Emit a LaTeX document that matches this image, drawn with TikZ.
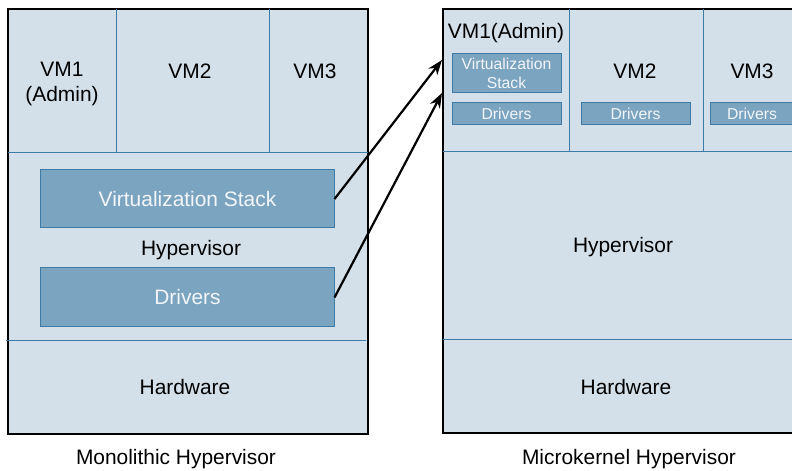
\documentclass[tikz,border=0pt]{standalone}
\usepackage{fontspec}
\setmainfont{Liberation Sans}
\usetikzlibrary{arrows.meta}
\definecolor{lightfill}{HTML}{D3E0EA}
\definecolor{darkfill}{HTML}{7BA4C1}
\definecolor{divline}{HTML}{3D7BA6}
\definecolor{boxtext}{HTML}{F2F6F9}
\tikzset{
  outerbox/.style={fill=lightfill,draw=black,line width=2bp},
  divider/.style={draw=divline,line width=1bp},
  compbox/.style={fill=darkfill,draw=divline,line width=1bp,inner sep=0pt,text=boxtext},
  bigfont/.style={font=\fontsize{21}{26}\selectfont},
  smallfont/.style={font=\fontsize{15.8}{19}\selectfont},
  lbl/.style={inner sep=0pt,text=black,bigfont},
  arr/.style={line width=2.2bp,-{Stealth[length=15bp,width=11bp]}}
}
\begin{document}
\begin{tikzpicture}[x=1bp,y=-1bp]
\useasboundingbox (0,0) rectangle (792,471);
\clip (0,0) rectangle (792,471);
\fill[white] (0,0) rectangle (792,471);

% ---------- Monolithic ----------
\draw[outerbox] (8,9) rectangle (368,434);
\draw[divider] (8,153) -- (368,153);
\draw[divider] (116,9) -- (116,153);
\draw[divider] (269,9) -- (269,153);
\draw[divider] (6,341) -- (366,341);

\node[lbl,align=center] (m1) at (62,84) {VM1\\(Admin)};
\node[lbl] (m2) at (190,71) {VM2};
\node[lbl] (m3) at (315,71) {VM3};

\node[compbox,bigfont,minimum width=293bp,minimum height=58bp] (mvs) at (187.5,199) {Virtualization Stack};
\node[compbox,bigfont,minimum width=293bp,minimum height=59bp] (mdr) at (187.5,297.5) {Drivers};
\node[lbl] (mhyp) at (191,250) {Hypervisor};
\node[lbl] (mhw) at (185,387.5) {Hardware};
\node[lbl] (mcap) at (176,459) {Monolithic Hypervisor};

% ---------- Microkernel ----------
\draw[outerbox] (443,9) rectangle (806,433);
\draw[divider] (443,152) -- (806,152);
\draw[divider] (569,9) -- (569,152);
\draw[divider] (703,9) -- (703,152);
\draw[divider] (443,340) -- (806,340);

\node[lbl] (k1) at (506,33) {VM1(Admin)};
\node[compbox,smallfont,align=center,minimum width=109bp,minimum height=39bp] (kvs) at (506.5,73.5) {Virtualization\\Stack};
\node[compbox,smallfont,minimum width=109bp,minimum height=22bp] (kdr1) at (506.5,114) {Drivers};
\node[lbl] (k2) at (635,71) {VM2};
\node[compbox,smallfont,minimum width=109bp,minimum height=22bp] (kdr2) at (635.5,114) {Drivers};
\node[lbl] (k3) at (752,71) {VM3};
\node[compbox,smallfont,minimum width=84bp,minimum height=22bp] (kdr3) at (752,114) {Drivers};
\node[lbl] (khyp) at (623,247) {Hypervisor};
\node[lbl] (khw) at (626,387.5) {Hardware};
\node[lbl] (kcap) at (629,459) {Microkernel Hypervisor};

% ---------- Arrows ----------
\coordinate (t1) at (442,60);
\coordinate (t2) at (442,93);
\draw[arr] (mvs.east) -- (t1);
\draw[arr] (mdr.east) -- (t2);
\end{tikzpicture}
\end{document}
